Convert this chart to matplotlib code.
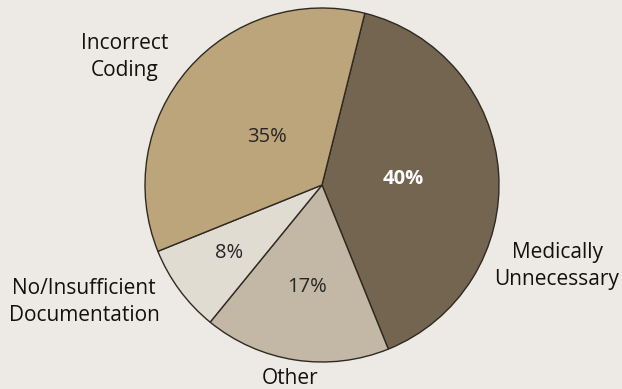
import numpy as np
import matplotlib
matplotlib.use('Agg')
import matplotlib.pyplot as plt

# denial reasons, clockwise from the top
reasons = ['Medically\nUnnecessary', 'Other', 'No/Insufficient\nDocumentation', 'Incorrect\nCoding']
shares = [40, 17, 8, 35]
colors = ['#736550', '#c3b8a6', '#e1dcd2', '#bca47b']
pct_colors = ['white', '#262626', '#262626', '#262626']
pct_dist = [0.46, 0.58, 0.65, 0.41]

# name labels sit around the pie (pixel coords, y up)
name_pos = [(557, 123), (290, 11), (84, 87), (125, 332)]

plt.rcParams['font.family'] = ['Open Sans', 'DejaVu Sans']
bg = '#edeae5'

fig = plt.figure(figsize=(6.22, 3.89), dpi=100, facecolor=bg)
ax = fig.add_axes([0, 0, 1, 1])
ax.set_facecolor(bg)

cx, cy, r = 322, 204, 177
wedges, _ = ax.pie(shares, colors=colors, startangle=76, counterclock=False,
                   center=(cx, cy), radius=r, frame=True,
                   wedgeprops=dict(edgecolor='#2e2a22', linewidth=1.0))
ax.set_xlim(0, 622)
ax.set_ylim(0, 389)
ax.set_aspect('equal')
ax.axis('off')

for w, val, c, d in zip(wedges, shares, pct_colors, pct_dist):
    mid = np.deg2rad((w.theta1 + w.theta2) / 2)
    ax.text(cx + d * r * np.cos(mid), cy + d * r * np.sin(mid), f'{val}%',
            ha='center', va='center', fontsize=14.5, color=c,
            fontweight='bold' if c == 'white' else 'normal')

for name, (x, y) in zip(reasons, name_pos):
    ax.text(x, y, name, ha='center', va='center', fontsize=15,
            color='#111111', linespacing=1.35)

fig.savefig('out.png', dpi=100, facecolor=bg)
